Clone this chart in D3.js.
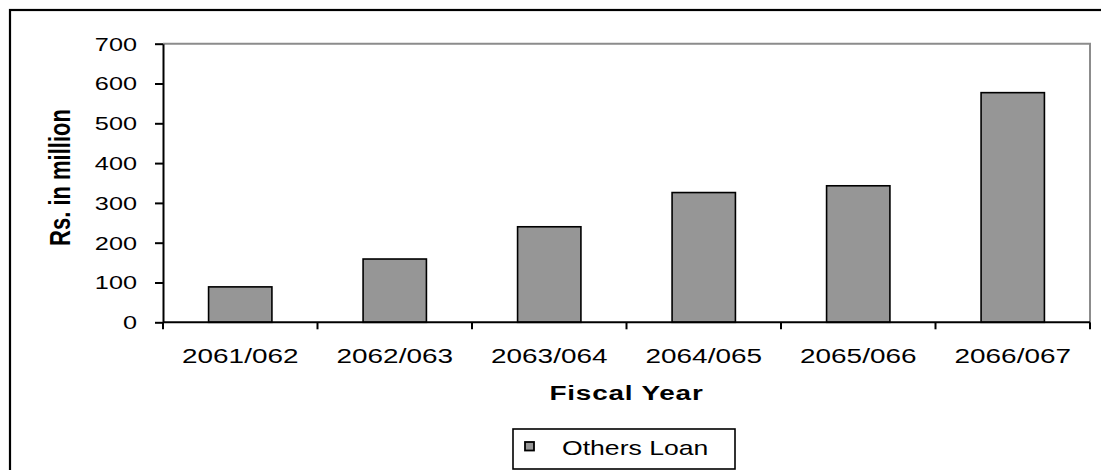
<!DOCTYPE html>
<html>
<head>
<meta charset="utf-8">
<script src="https://cdn.jsdelivr.net/npm/d3@7/dist/d3.min.js"></script>
<style>
  html, body { margin: 0; padding: 0; background: #fff; }
  svg { display: block; }
  text { font-family: "Liberation Sans", Arial, sans-serif; fill: #000; }
</style>
</head>
<body>
<svg id="chart" width="1101" height="470"></svg>
<script>
// Fiscal years and amounts (Rs. in million)
const categories = ["2061/062", "2062/063", "2063/064", "2064/065", "2065/066", "2066/067"];
const othersLoan = [89, 159, 240, 326, 343, 577];
const yTicks = [0, 100, 200, 300, 400, 500, 600, 700];
const seriesName = "Others Loan";

const svg = d3.select("#chart");
const W = 1101, H = 470;
const stretch = 1.33; // horizontal text stretch

const plot = { left: 163, right: 1090, top: 43.7, bottom: 322.3 };

// outer frame (extends past the window on right and bottom)
svg.append("rect")
  .attr("x", 10).attr("y", 10)
  .attr("width", W + 20).attr("height", H + 20)
  .attr("fill", "none").attr("stroke", "#000").attr("stroke-width", 2.2);

const x = d3.scaleBand()
  .domain(categories)
  .range([plot.left, plot.right])
  .paddingInner(0.59)
  .paddingOuter(0.295);

const y = d3.scaleLinear()
  .domain([0, 700])
  .range([plot.bottom, plot.top]);

// plot area border (top & right in gray)
svg.append("path")
  .attr("d", `M${plot.left},${plot.top}H${plot.right}V${plot.bottom}`)
  .attr("fill", "none").attr("stroke", "#8c8c8c").attr("stroke-width", 2);

// bars
svg.append("g").selectAll("rect")
  .data(categories.map((c, i) => ({ c, v: othersLoan[i] })))
  .join("rect")
  .attr("x", d => x(d.c))
  .attr("y", d => y(d.v))
  .attr("width", x.bandwidth())
  .attr("height", d => y(0) - y(d.v))
  .attr("fill", "#969696")
  .attr("stroke", "#000")
  .attr("stroke-width", 1.6);

// y axis
const yAxis = svg.append("g")
  .attr("transform", `translate(${plot.left},0)`)
  .call(d3.axisLeft(y).tickValues(yTicks).tickSize(8).tickSizeOuter(0).tickPadding(0));
yAxis.select(".domain").attr("stroke", "#000").attr("stroke-width", 2);
yAxis.selectAll(".tick line").attr("stroke", "#000").attr("stroke-width", 2);
yAxis.selectAll(".tick text")
  .attr("x", 0).attr("dy", null)
  .attr("dominant-baseline", "central")
  .attr("transform", `translate(-26,0) scale(${stretch},1)`)
  .attr("font-size", 19)
  .attr("font-family", "Liberation Sans, Arial, sans-serif")
  .attr("fill", "#000");

// x axis line and category boundary ticks
const step = x.step();
const xAxis = svg.append("g");
xAxis.append("line")
  .attr("x1", plot.left).attr("x2", plot.right)
  .attr("y1", y(0)).attr("y2", y(0))
  .attr("stroke", "#000").attr("stroke-width", 2);
xAxis.selectAll("line.tick")
  .data(d3.range(categories.length + 1))
  .join("line")
  .attr("class", "tick")
  .attr("x1", i => plot.left + i * step).attr("x2", i => plot.left + i * step)
  .attr("y1", y(0)).attr("y2", y(0) + 7)
  .attr("stroke", "#000").attr("stroke-width", 2);
xAxis.selectAll("text")
  .data(categories)
  .join("text")
  .attr("transform", c => `translate(${x(c) + x.bandwidth() / 2},363) scale(${stretch},1)`)
  .attr("text-anchor", "middle")
  .attr("font-size", 21)
  .text(c => c);

// axis titles
svg.append("text")
  .attr("transform", `translate(${(plot.left + plot.right) / 2},400) scale(${stretch},1)`)
  .attr("text-anchor", "middle")
  .attr("font-size", 21)
  .attr("font-weight", "bold")
  .attr("letter-spacing", 0.6)
  .text("Fiscal Year");

svg.append("text")
  .attr("transform", `translate(70,177.5) scale(${stretch},1) rotate(-90)`)
  .attr("text-anchor", "middle")
  .attr("font-size", 22)
  .attr("font-weight", "bold")
  .text("Rs. in million");

// legend
const legend = svg.append("g");
legend.append("rect")
  .attr("x", 513).attr("y", 429).attr("width", 222).attr("height", 40)
  .attr("fill", "#fff").attr("stroke", "#000").attr("stroke-width", 1.6);
legend.append("rect")
  .attr("x", 525).attr("y", 442).attr("width", 9).attr("height", 8.5)
  .attr("fill", "#969696").attr("stroke", "#000").attr("stroke-width", 1.8);
legend.append("text")
  .attr("transform", `translate(562,455) scale(${stretch},1)`)
  .attr("font-size", 20)
  .text(seriesName);
</script>
</body>
</html>
